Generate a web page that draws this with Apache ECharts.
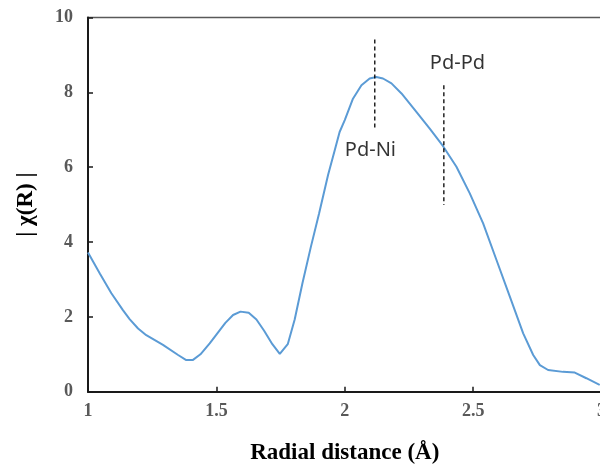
<!DOCTYPE html>
<html>
<head>
<meta charset="utf-8">
<script src="https://cdn.jsdelivr.net/npm/echarts@6/dist/echarts.min.js"></script>
<style>html,body{margin:0;padding:0;background:#fff}#c{width:600px;height:464px}</style>
</head>
<body>
<div id="c"></div>
<script>
// Radial distance (Å)
const rValues = [1.000,1.046,1.091,1.136,1.162,1.195,1.227,1.292,1.351,1.381,1.409,1.438,1.474,1.506,1.535,1.565,1.594,1.626,1.656,1.686,1.718,1.747,1.778,1.805,1.835,1.868,1.900,1.935,1.961,1.980,2.000,2.032,2.065,2.097,2.123,2.149,2.182,2.221,2.279,2.331,2.383,2.435,2.487,2.539,2.591,2.643,2.695,2.734,2.760,2.792,2.850,2.896,2.941,2.993];
// |χ(R)|
const chiValues = [3.72,3.16,2.63,2.18,1.94,1.69,1.51,1.25,0.98,0.85,0.85,1.00,1.29,1.58,1.84,2.05,2.14,2.11,1.93,1.63,1.27,1.01,1.27,1.93,2.89,3.87,4.76,5.79,6.45,6.94,7.26,7.83,8.19,8.37,8.41,8.37,8.24,7.97,7.48,7.03,6.56,6.01,5.30,4.50,3.52,2.54,1.56,0.98,0.71,0.58,0.53,0.51,0.36,0.18];
// dashed markers
const pdNiLine = [[2.117, 9.41], [2.117, 6.99]];
const pdPdLine = [[2.386, 8.19], [2.386, 4.99]];
const annotations = [
  {name: 'Pd-Ni', value: [2.100, 6.44]},
  {name: 'Pd-Pd', value: [2.439, 8.77]}
];
const xTicks = {min: 1, max: 3, interval: 0.5};
const yTicks = {min: 0, max: 10, interval: 2};

const chart = echarts.init(document.getElementById('c'), null, {renderer: 'canvas'});
const tickFont = {fontFamily: 'Liberation Serif', fontWeight: 'bold', fontSize: 18, color: '#595959'};
chart.setOption({
  animation: false,
  grid: {left: 88, top: 17.5, right: -1.5, bottom: 72.3, containLabel: false, outerBoundsMode: 'none',
    show: true, borderColor: '#595959', borderWidth: 1.5, backgroundColor: 'transparent'},
  xAxis: {
    type: 'value', min: xTicks.min, max: xTicks.max, interval: xTicks.interval,
    axisLine: {show: true, lineStyle: {color: '#1a1a1a', width: 2}},
    axisTick: {show: true, inside: true, length: 5, lineStyle: {color: '#1a1a1a', width: 1.5}},
    splitLine: {show: false},
    axisLabel: Object.assign({margin: 11}, tickFont),
    name: 'Radial distance (Å)', nameLocation: 'middle', nameGap: 50,
    nameTextStyle: {fontFamily: 'Liberation Serif', fontWeight: 'bold', fontSize: 23, color: '#000'}
  },
  yAxis: {
    type: 'value', min: yTicks.min, max: yTicks.max, interval: yTicks.interval,
    axisLine: {show: true, lineStyle: {color: '#1a1a1a', width: 2}},
    axisTick: {show: true, inside: true, length: 5, lineStyle: {color: '#1a1a1a', width: 1.5}},
    splitLine: {show: false},
    axisLabel: Object.assign({margin: 15}, tickFont),
    name: '| χ(R) |', nameLocation: 'middle', nameGap: 50,
    nameTextStyle: {fontFamily: 'Liberation Serif', fontWeight: 'bold', fontSize: 23, color: '#000'}
  },
  series: [
    {
      type: 'line', data: rValues.map((r, i) => [r, chiValues[i]]),
      showSymbol: false, smooth: false,
      lineStyle: {color: '#5b9bd5', width: 2}, z: 3
    },
    {
      type: 'line', data: pdNiLine, showSymbol: false,
      lineStyle: {color: '#000', width: 1.3, type: [4, 3]}, z: 4
    },
    {
      type: 'line', data: pdPdLine, showSymbol: false,
      lineStyle: {color: '#000', width: 1.3, type: [4, 3]}, z: 4
    },
    {
      type: 'scatter', data: annotations, symbolSize: 0,
      label: {show: true, position: 'inside', formatter: p => p.name,
        fontFamily: 'Noto Sans', fontSize: 20, color: '#000'}, z: 5
    }
  ]
});
</script>
</body>
</html>
